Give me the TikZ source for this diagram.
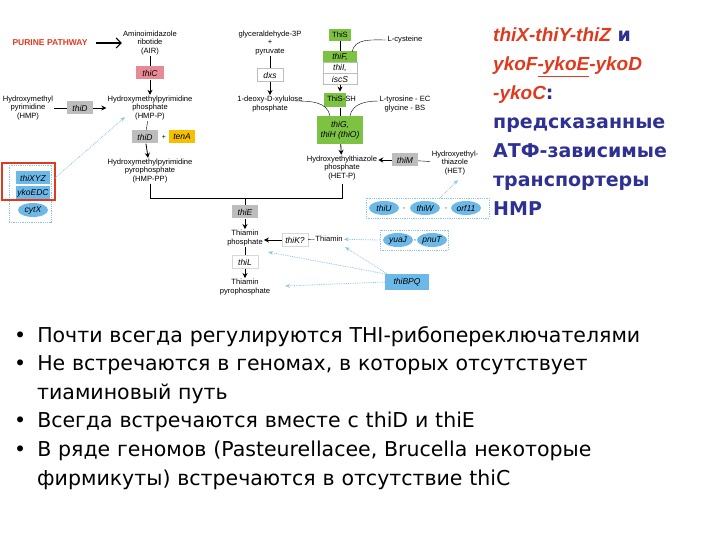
\documentclass[tikz,border=0pt]{standalone}
\usepackage{fontspec}
\setmainfont{Liberation Sans}
\newfontfamily\djfont{DejaVu Sans}
\usetikzlibrary{arrows.meta,shapes.geometric}
\definecolor{gr}{HTML}{7DC243}
\definecolor{gy}{HTML}{BDBDBD}
\definecolor{pk}{HTML}{E88A96}
\definecolor{yl}{HTML}{F5C000}
\definecolor{bl}{HTML}{6CB8E8}
\definecolor{dot}{HTML}{8CC4E4}
\definecolor{navy}{HTML}{2E3192}
\definecolor{rd}{HTML}{E03A1E}
\tikzset{x=1pt,y=-1pt,
 chem/.style={font=\fontsize{7.6}{8.4}\selectfont,align=center,inner sep=1pt},
 gene/.style={font=\fontsize{8.5}{9}\selectfont\itshape,inner sep=1.5pt,minimum height=13pt,minimum width=26pt},
 ggy/.style={gene,fill=gy},
 ggr/.style={gene,fill=gr},
 gbl/.style={gene,fill=bl},
 ell/.style={gene,ellipse,fill=bl,inner sep=0.5pt,minimum width=30pt,minimum height=14pt},
 arr/.style={-{Stealth[length=5pt,width=5pt]},thick},
 darr/.style={-{Stealth[open,length=5pt]},dot,densely dotted,thick},
 dbox/.style={draw=dot,densely dotted,thick}}
\begin{document}
\begin{tikzpicture}
\useasboundingbox (0,0) rectangle (720,540);
% purine
\node[font=\fontsize{8.5}{9}\selectfont\bfseries,text=rd] (pur) at (50,43) {PURINE PATHWAY};
\node[chem] (air) at (150,43) {Aminoimidazole\\ribotide\\(AIR)};
\draw[-{Straight Barb[length=5pt]},very thick] (pur.east)++(5,0) coordinate (p1) -- (air.west);
\node[gene,fill=pk,minimum width=28pt] (thiC) at (150,73) {thiC};
\node[chem] (hmpp) at (150,108) {Hydroxymethylpyrimidine\\phosphate\\(HMP-P)};
\draw (air) -- (thiC); \draw[arr] (thiC) -- (hmpp);
\node[chem] (hmp) at (28,108) {Hydroxymethyl\\pyrimidine\\(HMP)};
\node[ggy] (thiD1) at (80,108) {thiD};
\draw (hmp) -- (thiD1); \draw[arr] (thiD1) -- (hmpp);
\node[ggy] (thiD2) at (145,137) {thiD};
\node[font=\fontsize{7}{8}\selectfont] (plus1) at (164,137) {+};
\node[gene,fill=yl] (tenA) at (182,137) {tenA};
\node[chem] (hmppp) at (150,171) {Hydroxymethylpyrimidine\\pyrophosphate\\(HMP-PP)};
\draw (hmpp) -- (thiD2); \draw[arr] (thiD2) -- (hmppp);
% left transporters
\node[gbl,minimum width=34pt] (xyz) at (33,178) {thiXYZ};
\node[gbl,minimum width=34pt] (edc) at (33,193) {ykoEDC};
\node[ell] (cytx) at (33,210) {cytX};
\node[dbox,minimum width=42pt,minimum height=57pt] (lbox) at (30,194) {};
\draw[rd,line width=2.5pt] (2,163) rectangle (55,200);
\draw[darr] (55,178) -- (125,117);
% glyceraldehyde
\node[chem] (gly) at (270,43) {glyceraldehyde-3P\\+\\pyruvate};
\node[gene,draw=gy,minimum width=26pt] (dxs) at (270,75) {dxs};
\node[chem] (dxp) at (270,104) {1-deoxy-D-xylulose\\phosphate};
\draw (gly) -- (dxs); \draw[arr] (dxs) -- (dxp);
% ThiS
\node[gene,fill=gr,font=\fontsize{7.6}{8}\selectfont,minimum width=22pt,minimum height=12pt] (thiS) at (340,35) {ThiS};
\node[chem] (cys) at (405,40) {L-cysteine};
\node[gene,fill=gr,minimum width=34pt,minimum height=11pt] (thiF) at (340,57) {thiF,};
\node[gene,draw=gy,minimum width=34pt,minimum height=11pt] (thiI) at (340,68) {thiI,};
\node[gene,draw=gy,minimum width=34pt,minimum height=11pt] (iscS) at (340,79) {iscS};
\draw (thiS) -- (thiF);
\draw (cys.west) to[out=180,in=80] (352,52);
\node[chem] (thissh) at (340,100) {\colorbox{gr}{\strut ThiS}\hspace{-3pt}-SH};
\draw[arr] (iscS) -- (thissh);
\node[chem] (tyr) at (405,104) {L-tyrosine - EC\\glycine - BS};
\node[gene,fill=gr,align=center,minimum width=46pt,minimum height=28pt,font=\fontsize{8.5}{10}\selectfont\itshape] (thiG) at (340,130) {thiG,\\thiH (thiO)};
\draw (dxp.east) ++(-8,-3) to[out=0,in=100] (330,116);
\draw (tyr.west) ++(0,-3) to[out=180,in=80] (350,116);
\draw (thissh) -- (thiG);
\node[chem] (hetp) at (342,168) {Hydroxyethylthiazole\\phosphate\\(HET-P)};
\draw[arr] (thiG) -- (hetp);
\node[ggy] (thiM) at (405,160) {thiM};
\node[chem] (het) at (455,163) {Hydroxyethyl-\\thiazole\\(HET)};
\draw (het) -- (thiM); \draw[arr] (thiM) -- (hetp.east|-thiM);
\node[ell] (thiU) at (384,208) {thiU};
\node[ell] (thiW) at (425,208) {thiW};
\node[ell] (orf) at (466,208) {orf11};
\node[font=\fontsize{7}{8}\selectfont] at (404,209) {,};
\node[font=\fontsize{7}{8}\selectfont] at (446,209) {,};
\draw[dbox] (366,198) rectangle (489,218);
\draw[darr] (440,198) -- (458,180);
% merge
\node[ggy] (thiE) at (245,212) {thiE};
\draw[thick] (150,184) -- (150,198) -- (342,198) -- (342,184);
\draw (245,198) -- (thiE);
\node[chem] (tp) at (245,238) {Thiamin\\phosphate};
\draw[arr] (thiE) -- (tp);
\node[gene,draw=gy!60] (thiK) at (295,240) {thiK?};
\node[chem] (thia) at (329,239) {Thiamin};
\draw (thia) -- (thiK); \draw[arr] (thiK) -- (tp.east|-thiK);
\node[ell] (yuaJ) at (398,240) {yuaJ};
\node[ell] (pnuT) at (432,240) {pnuT};
\node[font=\fontsize{7}{8}\selectfont] at (415,241) {,};
\draw[dbox] (380,230) rectangle (448,250);
\draw[darr] (380,240) -- (thia);
\node[gene,draw=gy!60] (thiL) at (245,262) {thiL};
\node[chem] (tpp) at (245,287) {Thiamin\\pyrophosphate};
\draw (tp) -- (thiL); \draw[arr] (thiL) -- (tpp);
\node[gbl,minimum width=44pt,minimum height=16pt] (bpq) at (407,282) {thiBPQ};
\draw[darr] (bpq.north west) -- (268,252);
\draw[darr] (bpq.north west) ++(2,0) -- (345,247);
\draw[darr] (bpq.west) -- (285,286);
% right text
\node[anchor=north west,align=left,font=\djfont\bfseries\fontsize{19}{29}\selectfont,text=navy,inner sep=0] at (493,28) {%
\textcolor{rd}{\rmfamily\bfseries\itshape thiX-thiY-thiZ} и\\
\textcolor{rd}{\rmfamily\bfseries\itshape ykoF\underline{-ykoE}-ykoD}\\
\textcolor{rd}{\rmfamily\bfseries\itshape -ykoC}:\\
предсказанные\\АТФ-зависимые\\транспортеры\\НМР};
% bullets
\node[anchor=north west,align=left,font=\djfont\fontsize{20.5}{28.6}\selectfont,inner sep=0,text width=710pt] at (14,326) {%
\textbullet\hspace{11pt}Почти всегда регулируются THI-рибопереключателями\\
\textbullet\hspace{11pt}Не встречаются в геномах, в которых отсутствует\\
\hspace{23pt}тиаминовый путь\\
\textbullet\hspace{11pt}Всегда встречаются вместе с thiD и thiE\\
\textbullet\hspace{11pt}В ряде геномов (Pasteurellacee, Brucella некоторые\\
\hspace{23pt}фирмикуты) встречаются в отсутствие thiC};
\end{tikzpicture}
\end{document}
